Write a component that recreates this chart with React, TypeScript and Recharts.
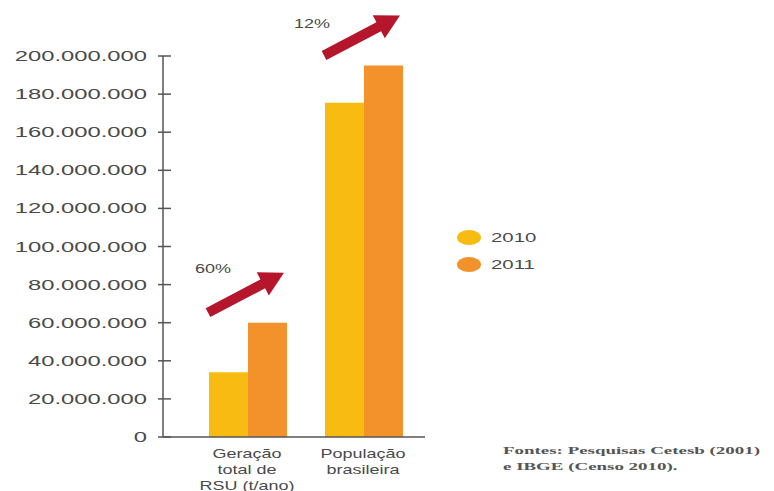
import { Bar, BarChart, XAxis, YAxis, LabelList, Legend } from "recharts"

const categories = ["Geração total de RSU (t/ano)", "População brasileira"]
const categoryLines = [["Geração", "total de", "RSU (t/ano)"], ["População", "brasileira"]]
const values2010 = [34000000, 175500000]
const values2011 = [60000000, 195000000]
const growth = ["60%", "12%"]
const yTicks = [0, 20000000, 40000000, 60000000, 80000000, 100000000, 120000000, 140000000, 160000000, 180000000, 200000000]

const data = categories.map((name, i) => ({
  name,
  y2010: values2010[i],
  y2011: values2011[i],
  growth: growth[i],
}))

const fmt = (v: number) => v.toLocaleString("de-DE")

const textColor = "#4a4a4a"

function YTick(props: any) {
  const { x, y, payload } = props
  return (
    <g>
      <line x1={x + 3} x2={x + 16} y1={y} y2={y} stroke="#555" strokeWidth={1.5} />
      <text
        transform={`translate(${x - 8},${y + 5}) scale(1.7,1)`}
        textAnchor="end"
        fontSize={14}
        fontFamily="Liberation Sans, Arial, sans-serif"
        fill={textColor}
      >
        {fmt(payload.value)}
      </text>
    </g>
  )
}

function XTick(props: any) {
  const { x, y, payload, index } = props
  const lines = categoryLines[index] || [payload.value]
  return (
    <g>
      {lines.map((l, i) => (
        <text
          key={i}
          transform={`translate(${x - 1},${y + 13 + i * 16}) scale(1.5,1)`}
          textAnchor="middle"
          fontSize={12}
          fontFamily="Liberation Sans, Arial, sans-serif"
          fill={textColor}
        >
          {l}
        </text>
      ))}
    </g>
  )
}

// growth arrow drawn off the top of the 2011 bar
function GrowthArrow(props: any) {
  const { x, y, width, index } = props
  const tipX = x + width - 3
  const tipY = y - 50
  const tailX = x - 40
  const tailY = y - 10
  const dx = tipX - tailX
  const dy = tipY - tailY
  const len = Math.sqrt(dx * dx + dy * dy)
  const ux = dx / len
  const uy = dy / len
  const nx = -uy
  const ny = ux
  const shaft = 5
  const headW = 13
  const headL = 24
  const bx = tipX - ux * headL
  const by = tipY - uy * headL
  const pts = [
    [tailX + nx * shaft, tailY + ny * shaft],
    [bx + nx * shaft, by + ny * shaft],
    [bx + nx * headW, by + ny * headW],
    [tipX, tipY],
    [bx - nx * headW, by - ny * headW],
    [bx - nx * shaft, by - ny * shaft],
    [tailX - nx * shaft, tailY - ny * shaft],
  ]
  const label = growth[index]
  const lx = index === 0 ? x - 35 : x - 52
  const ly = index === 0 ? y - 50 : y - 38
  return (
    <g>
      <polygon points={pts.map((p) => p.join(",")).join(" ")} fill="#b5162b" />
      <text
        transform={`translate(${lx},${ly}) scale(1.5,1)`}
        textAnchor="middle"
        fontSize={12}
        fontFamily="Liberation Sans, Arial, sans-serif"
        fill={textColor}
      >
        {label}
      </text>
    </g>
  )
}

function LegendContent(props: any) {
  const { payload } = props
  return (
    <div>
      {(payload || []).map((p: any, i: number) => (
        <div key={i} style={{ display: "flex", alignItems: "center", height: 27 }}>
          <span
            style={{
              display: "inline-block",
              width: 24,
              height: 15,
              borderRadius: "50%",
              background: p.color,
              marginRight: 10,
            }}
          />
          <span
            style={{
              fontFamily: "Liberation Sans, Arial, sans-serif",
              fontSize: 12,
              color: textColor,
              display: "inline-block",
              transform: "scale(1.7,1)",
              transformOrigin: "left center",
            }}
          >
            {p.value}
          </span>
        </div>
      ))}
    </div>
  )
}

export default function App() {
  return (
    <div style={{ position: "absolute", left: 0, top: 0, width: 774, height: 491, background: "#fff" }}>
      <BarChart
        width={774}
        height={491}
        data={data}
        margin={{ top: 56, right: 349, left: 0, bottom: 0 }}
        barGap={0}
        barSize={39}
      >
        <XAxis
          dataKey="name"
          height={54}
          padding={{ left: 27, right: 3 }}
          axisLine={{ stroke: "#555", strokeWidth: 1.5 }}
          tickLine={false}
          tick={<XTick />}
          interval={0}
        />
        <YAxis
          width={163}
          domain={[0, 200000000]}
          ticks={yTicks}
          axisLine={{ stroke: "#555", strokeWidth: 1.5 }}
          tickLine={false}
          tick={<YTick />}
          interval={0}
        />
        <Legend
          layout="vertical"
          verticalAlign="middle"
          align="center"
          content={<LegendContent />}
          wrapperStyle={{ position: "absolute", left: 457, top: 224, width: 120 }}
        />
        <Bar dataKey="y2010" name="2010" fill="#f8bb12" isAnimationActive={false} />
        <Bar dataKey="y2011" name="2011" fill="#f3922a" isAnimationActive={false}>
          <LabelList dataKey="growth" content={<GrowthArrow />} />
        </Bar>
      </BarChart>
      <div
        style={{
          position: "absolute",
          left: 503,
          top: 442,
          fontFamily: "Liberation Serif, serif",
          fontSize: 11,
          fontWeight: "bold",
          color: "#555",
          lineHeight: "16px",
          transform: "scale(1.72,1)",
          transformOrigin: "left top",
          whiteSpace: "nowrap",
        }}
      >
        <div>Fontes: Pesquisas Cetesb (2001)</div>
        <div>e IBGE (Censo 2010).</div>
      </div>
    </div>
  )
}
